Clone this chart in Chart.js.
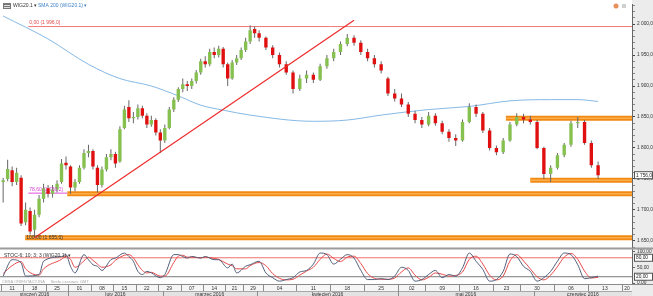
<!DOCTYPE html>
<html>
<head>
<meta charset="utf-8">
<title>WIG20.1</title>
<script src="https://cdn.jsdelivr.net/npm/chart.js@4.4.1/dist/chart.umd.min.js"></script>
<style>
  html,body{margin:0;padding:0;background:#fff;}
  #wrap{width:653px;height:296px;}
</style>
</head>
<body>
<div id="wrap"><canvas id="ctx" width="653" height="296"></canvas></div>
<script>
// daily candles, 11 Jan 2016 .. 14 Jun 2016 (index = trading day)
const open  = [1745,1750,1764,1745,1752,1680,1698,1668,1692,1718,1735,1726,1733,1745,1776,1770,1736,1745,1768,1792,
               1795,1768,1740,1765,1785,1790,1778,1832,1866,1848,1850,1864,1852,1838,1845,1825,1812,1832,1862,1878,
               1895,1903,1900,1908,1922,1940,1935,1955,1950,1960,1935,1912,1938,1945,1958,1972,1992,1985,1978,1962,
               1950,1935,1922,1895,1912,1918,1910,1932,1945,1955,1968,1978,1970,1955,1945,1935,1912,1888,1880,1870,
               1855,1845,1838,1852,1840,1826,1816,1812,1842,1866,1855,1828,1800,1793,1812,1838,1850,1846,1842,1800,
               1758,1768,1788,1805,1840,1842,1808,1772];
const high  = [1752,1781,1770,1768,1756,1712,1704,1700,1724,1742,1740,1740,1748,1782,1786,1772,1750,1772,1798,1805,
               1798,1772,1770,1790,1798,1794,1835,1868,1877,1858,1870,1868,1856,1852,1848,1830,1838,1866,1882,1898,
               1912,1908,1912,1926,1944,1948,1960,1962,1965,1963,1938,1942,1950,1962,1978,1998,1996,1990,1980,1966,
               1954,1940,1925,1918,1925,1922,1936,1950,1960,1972,1984,1982,1974,1960,1950,1940,1915,1895,1888,1874,
               1860,1850,1858,1856,1844,1830,1822,1846,1872,1870,1858,1832,1804,1816,1842,1856,1855,1852,1845,1802,
               1772,1792,1808,1844,1850,1845,1812,1778];
const low   = [1712,1746,1738,1740,1674,1675,1660,1655,1688,1712,1720,1720,1728,1742,1765,1726,1730,1742,1765,1785,
               1765,1728,1736,1762,1780,1768,1776,1830,1842,1840,1846,1848,1832,1834,1820,1792,1808,1830,1858,1874,
               1890,1892,1895,1904,1918,1930,1932,1945,1946,1930,1900,1910,1934,1942,1955,1968,1978,1972,1958,1945,
               1930,1918,1888,1892,1905,1905,1908,1928,1940,1950,1964,1965,1950,1940,1930,1920,1884,1875,1866,1850,
               1840,1832,1835,1836,1822,1810,1803,1810,1840,1850,1824,1796,1788,1790,1810,1835,1840,1838,1798,1750,
               1745,1765,1785,1802,1832,1805,1768,1750];
const close = [1748,1766,1745,1760,1678,1700,1665,1692,1718,1735,1726,1733,1742,1775,1772,1736,1745,1768,1792,1795,
               1770,1740,1765,1785,1790,1775,1830,1862,1848,1850,1864,1852,1838,1845,1825,1812,1832,1862,1878,1895,
               1903,1900,1908,1922,1940,1935,1955,1950,1960,1935,1912,1938,1945,1958,1972,1990,1985,1978,1962,1950,
               1935,1922,1895,1912,1918,1910,1932,1945,1955,1968,1978,1970,1955,1945,1935,1925,1888,1880,1870,1855,
               1845,1838,1852,1840,1826,1816,1812,1842,1866,1855,1828,1800,1793,1812,1838,1850,1846,1842,1800,1758,
               1768,1788,1805,1840,1842,1808,1772,1756];

// SMA 200
const smaX = [0,10,19,26,33,39,44,49,55,65,70,75,82,88,94,100,104,107];
const smaY = [2013,1976,1935,1912,1900,1884,1869,1861,1853,1843,1845,1853,1862,1867,1876,1878,1878,1875];

// stochastic %K (blue) and %D (red)
const kX = [0,2,4,5,8,9,13,14,15,16,18,19,20,21,22,24,25,27,28,29,30,31,32,33,35,36,38,39,40,41,42,44,45,47,48,50,51,52,54,55,
            57,58,59,60,61,62,63,64,65,66,67,68,69,70,71,72,73,74,75,76,77,78,79,80,81,82,83,84,85,86,87,88,89,90,91,92,93,94,95,96,97,98,99,100,101,102,103,104,105,106,107];
const kY = [22,74,64,22,27,69,84,90,53,32,90,74,58,53,40,74,79,95,84,69,37,27,37,32,17,27,90,90,84,79,84,79,84,74,74,48,60,32,53,58,
            69,32,17,6,11,17,35,40,60,95,90,60,75,90,79,40,11,11,14,11,22,50,40,6,11,27,40,17,27,22,48,95,69,43,6,11,37,92,84,53,37,6,17,37,69,95,90,58,14,17,22];
const dY = [30,55,68,45,25,45,75,85,75,50,70,82,72,60,50,58,72,88,90,80,58,40,32,34,22,22,65,85,88,82,82,80,82,78,75,60,55,45,45,55,
            65,55,30,15,10,12,25,38,50,75,92,78,68,82,85,62,30,15,12,12,16,35,48,25,10,18,32,28,22,24,35,75,85,60,25,10,22,70,90,70,45,20,10,25,52,82,94,75,38,16,18];

// drawn tools
const trendX = [7, 71];
const trendY = [1655, 2006];
const fibLevels = [1996, 1727, 1655];
const fibLabels = ['0,00 (1 996,0)', '78,60 (1 730,2)', '100,00 (1 655,0)'];
const fibFrom = [5.6, 5.6, 4.9];
const bandLevels = [1726, 1655, 1848, 1748];
const bandFrom = [14.3, 4.9, 93.4, 97];
const lastPrice = 1756;

const priceTicks = [1650,1700,1750,1800,1850,1900,1950,2000];
const stochTicks = [0,50,100];
const stochLevels = [80,20];

const weekStart = [0,5,10,15,20,25,30,35,40,45,50,54,58,63,68,73,78,82,87,92,96,101,106,111];
const weekLabel = ['11','18','25','01','08','15','22','29','07','14','21','29','04','11','18','25','02','09','16','23','30','06','13','20'];
const monthStart = [0,15,36,57,78,98];
const monthLabel = ['styczeń 2016','luty 2016','marzec 2016','kwiecień 2016','maj 2016','czerwiec 2016'];

const FONT = '"Liberation Sans", Arial, sans-serif';

function fmt(v, d) {
  const s = v.toFixed(d).split('.');
  const whole = s[0].replace(/\B(?=(\d{3})+(?!\d))/g, ' ');
  return d ? whole + ',' + s[1] : whole;
}

// linear scale with a kink: the older part of the chart is squeezed
class BrokenLinear extends Chart.LinearScale {
  getPixelForValue(v) {
    const b = this.options.breakValue, f = this.options.breakFraction;
    const d = v <= b ? f * (v - this.min) / (b - this.min)
                     : f + (1 - f) * (v - b) / (this.max - b);
    return this.getPixelForDecimal(d);
  }
  getValueForPixel(p) {
    const b = this.options.breakValue, f = this.options.breakFraction;
    const d = this.getDecimalForPixel(p);
    return d <= f ? this.min + d / f * (b - this.min)
                  : b + (d - f) / (1 - f) * (this.max - b);
  }
}
BrokenLinear.id = 'brokenLinear';
BrokenLinear.defaults = {};
Chart.register(BrokenLinear);

const idx = close.map((c, i) => i);
const wicks = idx.map(i => ({x: i, y: [low[i], high[i]]}));
const bodies = idx.map(i => ({x: i, y: [open[i], close[i]]}));
const bodyColors = idx.map(i => close[i] >= open[i] ? '#86c04f' : '#e01010');

function hline(y, from) { return [{x: from, y: y}, {x: 113, y: y}]; }

const decor = {
  id: 'decor',
  beforeDraw(chart) {
    const c = chart.ctx, ca = chart.chartArea;
    c.save();
    c.fillStyle = '#fff';
    c.fillRect(0, 0, chart.width, chart.height);
    c.fillStyle = '#ececec';
    c.fillRect(ca.right, 0, chart.width - ca.right, ca.bottom);
    c.restore();
  },
  afterDraw(chart) {
    const c = chart.ctx, ca = chart.chartArea;
    const xs = chart.scales.x, ys = chart.scales.y, ss = chart.scales.ys;
    c.save();
    c.textBaseline = 'middle';

    // pane separator and stoch frame
    c.fillStyle = '#9c9c9c';
    c.fillRect(0, ss.top - 1, chart.width, 2);
    c.fillStyle = '#8a8a8a';
    c.fillRect(0, ca.bottom, chart.width, 1);

    // date rows
    const top = ca.bottom + 1;
    c.fillStyle = '#f6f6f6';
    c.fillRect(0, top, ca.right, 6);
    c.fillStyle = '#e3e3e3';
    c.fillRect(0, top + 6, ca.right, chart.height - top - 6);
    c.fillStyle = '#ececec';
    c.fillRect(ca.right, top, chart.width - ca.right, chart.height - top);
    c.fillStyle = '#a8a8a8';
    c.fillRect(0, top + 6, ca.right, 1);
    c.font = '5px ' + FONT;
    c.textAlign = 'center';
    c.beginPath();
    c.rect(0, top, ca.right, chart.height - top);
    c.clip();
    for (let k = 0; k < weekStart.length; k++) {
      const a = xs.getPixelForValue(weekStart[k] - 0.5);
      const b = k + 1 < weekStart.length ? xs.getPixelForValue(weekStart[k + 1] - 0.5) : ca.right;
      c.fillStyle = '#8c8c8c';
      c.fillRect(Math.round(a), top, 1, 6);
      c.fillStyle = '#333';
      c.fillText(weekLabel[k], (a + Math.min(b, ca.right)) / 2, top + 3.2);
    }
    for (let k = 0; k < monthStart.length; k++) {
      const a = Math.max(ca.left, xs.getPixelForValue(monthStart[k] - 0.5));
      const b = k + 1 < monthStart.length ? xs.getPixelForValue(monthStart[k + 1] - 0.5) : ca.right;
      c.fillStyle = '#8c8c8c';
      if (k > 0) c.fillRect(Math.round(a), top + 6, 1, chart.height - top - 6);
      c.fillStyle = '#333';
      c.fillText(monthLabel[k], (a + b) / 2, top + 9.3);
    }
    c.restore();
    c.save();
    c.textBaseline = 'middle';

    // fibonacci labels
    c.font = '5px ' + FONT;
    c.textAlign = 'left';
    const fibColors = ['#e34a4a', '#d43fd4', '#333'];
    for (let k = 0; k < fibLevels.length; k++) {
      const py = ys.getPixelForValue(fibLevels[k]);
      c.fillStyle = fibColors[k];
      c.fillText(fibLabels[k], xs.getPixelForValue(fibFrom[k]) + 1, k === 2 ? py : py - 3.5);
    }

    // legend
    c.fillStyle = '#777';
    c.fillRect(3, 3, 8, 6);
    c.fillStyle = '#ddd';
    c.fillRect(4, 5, 6, 1);
    c.fillRect(4, 7, 6, 1);
    c.font = '5px ' + FONT;
    c.fillStyle = '#333';
    c.fillText('WIG20.1 \u25BE', 13, 6);
    c.fillStyle = '#3f82c8';
    c.fillText('SMA 200 (WIG20.1) \u25BE', 38, 6);
    c.fillStyle = '#e8915a';
    c.beginPath(); c.arc(616, 6, 2.5, 0, Math.PI * 2); c.fill();
    c.fillStyle = '#d0d0d0';
    c.fillRect(622, 4, 4, 4);

    // stoch titles
    c.fillStyle = '#333';
    c.fillText('STOC-6; 10; 3; 3 (WIG20.1) \u25BE', 4, ss.getPixelForValue(88));
    c.fillStyle = '#aaa';
    c.font = '4px ' + FONT;
    c.fillText('CENA ORIENTACYJNA     Strefa czasowa: GMT', 2, ca.bottom - 2.5);

    // boxed values on the right axis
    c.font = '4.8px ' + FONT;
    const box = (py, txt) => {
      c.fillStyle = '#fff';
      c.fillRect(ca.right + 2, py - 3.5, 19, 7);
      c.strokeStyle = '#555';
      c.lineWidth = 1;
      c.strokeRect(ca.right + 2.5, py - 3.5, 18, 7);
      c.fillStyle = '#222';
      c.fillText(txt, ca.right + 4, py + 0.3);
    };
    box(ys.getPixelForValue(lastPrice), fmt(lastPrice, 1));
    stochLevels.forEach(v => box(ss.getPixelForValue(v), fmt(v, 2)));
    c.restore();
  }
};

const bandSets = [];
bandLevels.forEach((v, i) => {
  bandSets.push({type: 'line', data: hline(v, bandFrom[i]), borderColor: '#f28a12',
    borderWidth: 5, pointRadius: 0, order: 5, yAxisID: 'y'});
  bandSets.push({type: 'line', data: hline(v, bandFrom[i]), borderColor: '#fbad4e',
    borderWidth: 1.5, pointRadius: 0, order: 4, yAxisID: 'y'});
});

const ctx = document.getElementById('ctx');
new Chart(ctx, {
  type: 'bar',
  data: {
    datasets: [
      {label: 'bodies', data: bodies, backgroundColor: bodyColors, grouped: false,
       categoryPercentage: 0.75, barPercentage: 1, maxBarThickness: 4, minBarLength: 1, order: 1, yAxisID: 'y'},
      {label: 'wicks', data: wicks, backgroundColor: '#666', grouped: false,
       maxBarThickness: 1, order: 2, yAxisID: 'y'},
      {type: 'line', label: 'SMA 200', data: smaX.map((x, i) => ({x: x, y: smaY[i]})),
       borderColor: '#86b9e6', borderWidth: 1, pointRadius: 0, cubicInterpolationMode: 'monotone', order: 3, yAxisID: 'y'},
      ...bandSets,
      {type: 'line', data: hline(fibLevels[0], fibFrom[0]), borderColor: '#f07a7a', borderWidth: 1, pointRadius: 0, order: 3, yAxisID: 'y'},
      {type: 'line', data: [{x: fibFrom[1], y: fibLevels[1]}, {x: bandFrom[0], y: fibLevels[1]}], borderColor: '#e050e0',
       borderWidth: 1, pointRadius: 0, order: 3, yAxisID: 'y'},
      {type: 'line', label: 'trend', data: trendX.map((x, i) => ({x: x, y: trendY[i]})),
       borderColor: '#ee2b2b', borderWidth: 1.2, pointRadius: 0, order: 0, yAxisID: 'y'},
      ...stochLevels.map((v, i) => ({type: 'line', data: hline(v, -1), borderColor: i ? '#7a7a7a' : '#f07070',
       borderWidth: 1, pointRadius: 0, order: 5, yAxisID: 'ys'})),
      {type: 'line', label: '%D', data: kX.map((x, i) => ({x: x, y: dY[i]})), borderColor: '#e84a4a',
       borderWidth: 1, pointRadius: 0, cubicInterpolationMode: 'monotone', order: 1, yAxisID: 'ys'},
      {type: 'line', label: '%K', data: kX.map((x, i) => ({x: x, y: kY[i]})), borderColor: '#52607a',
       borderWidth: 1, pointRadius: 0, cubicInterpolationMode: 'monotone', order: 0, yAxisID: 'ys'}
    ]
  },
  options: {
    responsive: false,
    animation: false,
    devicePixelRatio: 1,
    events: [],
    layout: {padding: {left: 0, top: 0, right: 0, bottom: 12}},
    plugins: {legend: {display: false}, tooltip: {enabled: false}},
    scales: {
      x: {type: 'brokenLinear', display: false, offset: false, min: -0.7, max: 112,
          breakValue: 57, breakFraction: 0.41},
      y: {type: 'linear', position: 'right', stack: 'pane', stackWeight: 247, min: 1637.6, max: 2031,
          afterFit: s => { s.width = 21; },
          afterBuildTicks: s => { const t = []; for (let v = 1640; v <= 2030; v += 10) t.push({value: v}); s.ticks = t; },
          ticks: {autoSkip: false, padding: 2, color: '#333', font: {size: 4.8, family: FONT},
                  callback: v => priceTicks.includes(v) ? fmt(v, 1) : ''},
          grid: {drawOnChartArea: false, tickLength: 3, tickColor: c => c.tick && priceTicks.includes(c.tick.value) ? '#444' : '#888'},
          border: {color: '#666'}},
      ys: {type: 'linear', position: 'right', stack: 'pane', stackWeight: 36, min: -3, max: 109.4,
          afterFit: s => { s.width = 21; },
          afterBuildTicks: s => { s.ticks = stochTicks.map(v => ({value: v})); },
          ticks: {autoSkip: false, padding: 2, color: '#333', font: {size: 4.8, family: FONT},
                  callback: v => fmt(v, 2)},
          grid: {drawOnChartArea: false, tickLength: 3, tickColor: '#666'},
          border: {color: '#666'}}
    }
  },
  plugins: [decor]
});
</script>
</body>
</html>
